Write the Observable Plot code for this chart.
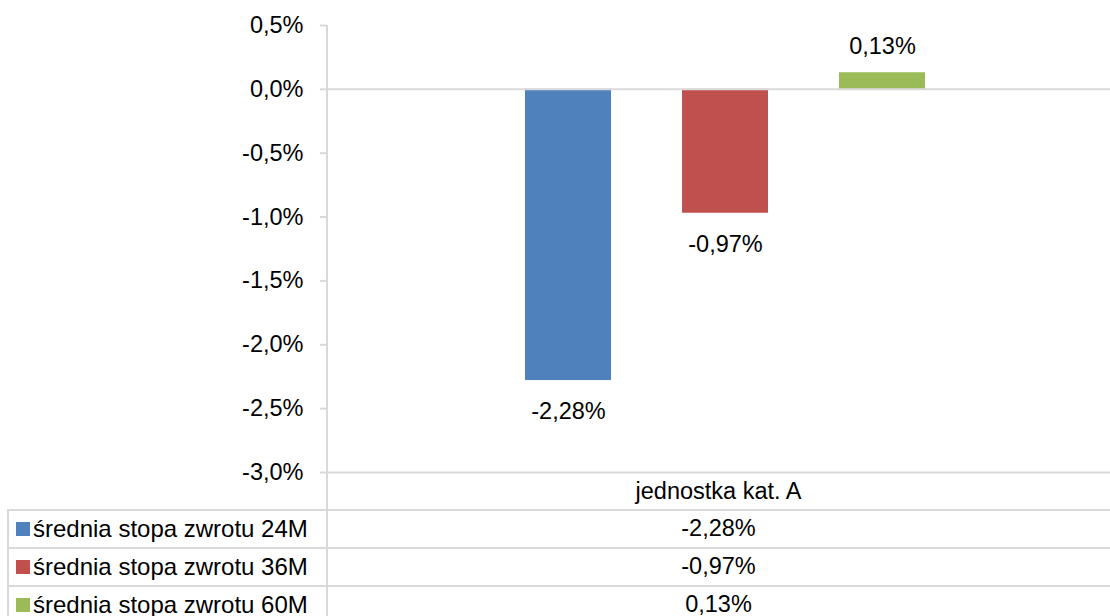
<!DOCTYPE html>
<html>
<head>
<meta charset="utf-8">
<script src="https://cdn.jsdelivr.net/npm/d3@7"></script>
<script src="https://cdn.jsdelivr.net/npm/@observablehq/plot@0.6"></script>
<style>
  html, body { margin: 0; padding: 0; background: #fff; }
  #wrap { position: relative; width: 1110px; height: 616px; overflow: hidden; font-family: "Liberation Sans", Arial, sans-serif; color: #000; }
  #wrap svg { position: absolute; left: 0; top: 0; }
  .hl { position: absolute; height: 2px; background: #d9d9d9; }
  .vl { position: absolute; width: 2px; background: #d9d9d9; }
  .cell { position: absolute; font-size: 23.5px; line-height: 1; white-space: nowrap; }
  .leg { font-size: 24px; }
  .sw { position: absolute; width: 14px; height: 14px; }
</style>
</head>
<body>
<div id="wrap"></div>
<script>
const category = "jednostka kat. A";
const seriesNames = ["średnia stopa zwrotu 24M", "średnia stopa zwrotu 36M", "średnia stopa zwrotu 60M"];
const seriesValues = [-2.28, -0.97, 0.13];
const seriesColors = ["#4F81BD", "#C0504D", "#9BBB59"];
const yTicks = [0.5, 0, -0.5, -1.0, -1.5, -2.0, -2.5, -3.0];

const data = seriesNames.map((s, i) => ({series: s, value: seriesValues[i]}));
const fmtPct = v => v.toFixed(2).replace(".", ",") + "%";
const fmtTick = v => v.toFixed(1).replace(".", ",") + "%";

const W = 1110, H = 616;
const chart = Plot.plot({
  width: W,
  height: H,
  marginLeft: 327,
  marginRight: 0,
  marginTop: 25,
  marginBottom: H - 472,
  style: {fontFamily: "'Liberation Sans', Arial, sans-serif", fontSize: "23.5px", color: "#000", background: "transparent"},
  x: {domain: seriesNames, range: [488.25, 960.75], paddingInner: 0.454, paddingOuter: 0.227, axis: null},
  y: {domain: [-3.0, 0.5], axis: null},
  color: {domain: seriesNames, range: seriesColors},
  marks: [
    Plot.barY(data, {x: "series", y: "value", fill: "series"}),
    Plot.ruleY([0, -3.0], {stroke: "#d9d9d9", strokeWidth: 2}),
    Plot.axisY({ticks: yTicks, tickFormat: fmtTick, tickSize: 7, tickPadding: 17, stroke: "#d9d9d9", strokeWidth: 2, fill: "#000", fontSize: 23.5, label: null}),
    Plot.text(data.filter(d => d.value < 0), {x: "series", y: "value", text: d => fmtPct(d.value), dy: 31, fontSize: 23.5, fill: "#000"}),
    Plot.text(data.filter(d => d.value >= 0), {x: "series", y: "value", text: d => fmtPct(d.value), dy: -26, fontSize: 23.5, fill: "#000"})
  ]
});

const wrap = document.getElementById("wrap");
wrap.appendChild(chart);

function add(cls, style, text) {
  const el = document.createElement("div");
  el.className = cls;
  Object.assign(el.style, style);
  if (text != null) el.textContent = text;
  wrap.appendChild(el);
  return el;
}

// table geometry
const axisX = 326, leftX = 7, rightX = W;
const headerTop = 472, rowTops = [509, 547, 585], rowH = 38;
const dataCenter = (327 + W) / 2;

// y axis line through plot and table
add("vl", {left: axisX + "px", top: "25px", height: (616 - 25) + "px"});
// header cell text
add("cell", {left: dataCenter + "px", top: (headerTop + rowH / 2 + 1) + "px", transform: "translate(-50%,-50%)"}, category);
// rows
rowTops.forEach((t, i) => {
  add("hl", {left: leftX + "px", top: t + "px", width: (rightX - leftX) + "px"});
  add("sw", {left: "16px", top: (t + rowH / 2 - 6) + "px", background: seriesColors[i]});
  add("cell leg", {left: "33px", top: (t + rowH / 2 + 1) + "px", transform: "translateY(-50%)"}, seriesNames[i]);
  add("cell", {left: dataCenter + "px", top: (t + rowH / 2 + 1) + "px", transform: "translate(-50%,-50%)"}, fmtPct(seriesValues[i]));
});
add("vl", {left: leftX + "px", top: rowTops[0] + "px", height: (616 - rowTops[0]) + "px"});
</script>
</body>
</html>
